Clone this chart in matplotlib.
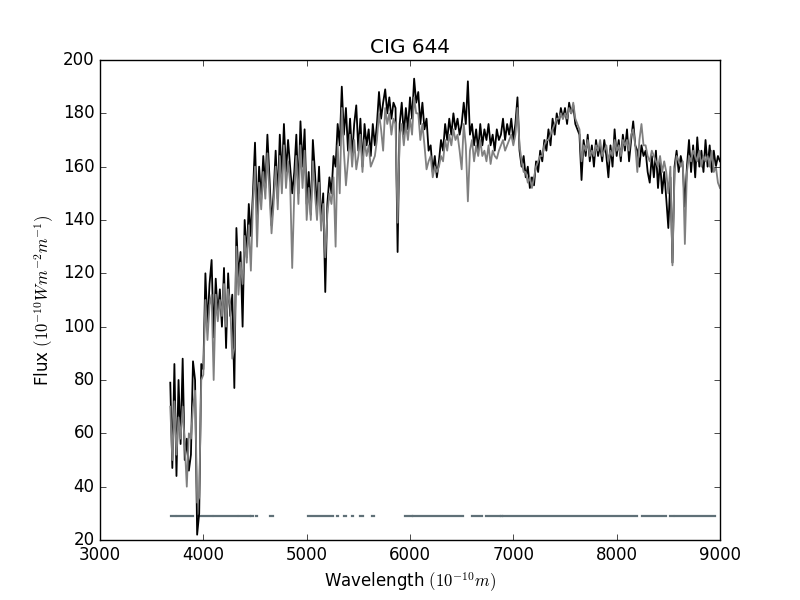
import numpy as np
import matplotlib
matplotlib.use("Agg")
import matplotlib.pyplot as plt

plt.style.use("classic")

wave_start, wave_step = 3680, 20

flux_obs = [
    79, 47, 86, 44, 80, 56, 88, 50, 58, 46,            # 3680
    52, 87, 80, 22, 30, 86, 84, 120, 100, 116,         # 3880
    125, 96, 118, 104, 114, 100, 122, 92, 120, 104,    # 4080
    112, 77, 137, 118, 128, 100, 140, 126, 146, 134,   # 4280
    150, 169, 142, 160, 148, 164, 152, 172, 156, 138,  # 4480
    150, 166, 148, 172, 156, 176, 158, 170, 160, 150,  # 4680
    158, 172, 150, 177, 160, 174, 146, 158, 142, 170,  # 4880
    158, 144, 160, 139, 150, 113, 146, 156, 150, 164,  # 5080
    160, 176, 168, 190, 172, 182, 166, 178, 164, 176,  # 5280
    183, 166, 178, 160, 176, 168, 174, 164, 176, 168,  # 5480
    176, 188, 178, 184, 189, 180, 186, 178, 184, 182,  # 5680
    128, 176, 184, 172, 182, 174, 186, 178, 193, 184,  # 5880
    188, 176, 184, 174, 178, 166, 168, 158, 164, 156,  # 6080
    162, 170, 166, 176, 170, 178, 172, 180, 174, 178,  # 6280
    172, 176, 184, 176, 192, 172, 176, 168, 174, 166,  # 6480
    176, 168, 174, 170, 176, 168, 172, 166, 174, 170,  # 6680
    172, 178, 170, 176, 172, 178, 170, 176, 186, 166,  # 6880
    160, 164, 156, 160, 152, 156, 153, 162, 158, 166,  # 7080
    162, 170, 166, 174, 168, 178, 172, 180, 176, 182,  # 7280
    178, 182, 176, 184, 180, 183, 176, 174, 172, 155,  # 7480
    170, 164, 172, 162, 168, 160, 170, 164, 168, 162,  # 7680
    170, 164, 156, 168, 160, 174, 164, 170, 162, 172,  # 7880
    166, 174, 162, 170, 177, 168, 166, 160, 168, 164,  # 8080
    166, 158, 154, 164, 156, 166, 152, 162, 150, 158,  # 8280
    148, 137, 156, 124, 160, 166, 158, 164, 160, 145,  # 8480
    160, 170, 158, 168, 156, 171, 160, 166, 158, 170,  # 8680
    160, 168, 158, 166, 160, 164, 162,                 # 8880
]

flux_model = [
    70, 50, 72, 52, 66, 58, 70, 56, 40, 60,            # 3680
    58, 70, 76, 34, 36, 80, 82, 110, 95, 108,          # 3880
    112, 80, 112, 102, 110, 104, 116, 100, 114, 108,   # 4080
    88, 92, 130, 112, 124, 116, 134, 124, 138, 121,    # 4280
    146, 160, 130, 154, 144, 158, 148, 165, 150, 135,  # 4480
    146, 160, 144, 164, 150, 168, 152, 162, 154, 122,  # 4680
    150, 164, 146, 168, 152, 166, 140, 152, 140, 162,  # 4880
    150, 140, 154, 136, 146, 126, 142, 150, 146, 156,  # 5080
    130, 168, 150, 182, 166, 153, 162, 172, 160, 170,  # 5280
    159, 164, 172, 158, 170, 164, 168, 160, 162, 164,  # 5480
    170, 180, 174, 166, 182, 176, 180, 172, 178, 176,  # 5680
    139, 172, 176, 168, 176, 170, 178, 172, 186, 180,  # 5880
    180, 170, 176, 168, 159, 162, 164, 156, 160, 158,  # 6080
    160, 164, 162, 170, 166, 172, 168, 174, 170, 172,  # 6280
    166, 159, 176, 168, 147, 166, 170, 162, 168, 164,  # 6480
    170, 164, 166, 162, 168, 161, 166, 164, 163, 166,  # 6680
    168, 170, 166, 168, 170, 172, 168, 172, 182, 168,  # 6880
    162, 158, 158, 154, 156, 152, 156, 160, 162, 164,  # 7080
    164, 168, 170, 170, 172, 174, 176, 178, 178, 180,  # 7280
    178, 180, 178, 182, 180, 184, 178, 176, 174, 162,  # 7480
    168, 166, 170, 164, 166, 164, 168, 166, 170, 164,  # 7680
    166, 168, 162, 166, 164, 170, 166, 168, 164, 170,  # 7880
    168, 170, 166, 172, 174, 168, 158, 170, 176, 168,  # 8080
    168, 164, 162, 166, 164, 162, 160, 164, 158, 162,  # 8280
    158, 150, 160, 123, 158, 164, 162, 160, 162, 131,  # 8480
    158, 164, 162, 166, 164, 162, 166, 160, 164, 162,  # 8680
    164, 160, 166, 158, 160, 154, 152,                 # 8880
]

# masked wavelength ranges, shown as a line at a fixed flux level
mask_level = 29
mask_ranges = [
    (3687, 3726), (3742, 3903), (3948, 4084), (4103, 4326), (4345, 4452),
    (4466, 4476), (4511, 4521), (4645, 4674), (5013, 5255), (5298, 5308),
    (5366, 5376), (5434, 5444), (5516, 5545), (5637, 5647), (5952, 6019),
    (6029, 6509), (6597, 6694), (6735, 6871), (6880, 6890), (6900, 8197),
    (8242, 8477), (8516, 8545), (8564, 8952),
]

wave_obs = wave_start + wave_step * np.arange(len(flux_obs))
wave_model = wave_start + wave_step * np.arange(len(flux_model))

fig = plt.figure(figsize=(8, 6))
ax = fig.add_subplot(111)

for lo, hi in mask_ranges:
    ax.plot([lo, hi], [mask_level, mask_level], '-', color='#5f7077', lw=1.6)

ax.plot(wave_obs, flux_obs, '-', color='black', lw=1.3)
ax.plot(wave_model, flux_model, '-', color='gray', lw=1.3)

ax.set_xlim(3000, 9000)
ax.set_ylim(20, 200)
ax.set_title('CIG 644')
ax.set_xlabel(r'Wavelength $(10^{-10} m)$')
ax.set_ylabel(r'Flux $(10^{-10} W m^{-2} m^{-1})$')

fig.savefig('out.png', dpi=100)
